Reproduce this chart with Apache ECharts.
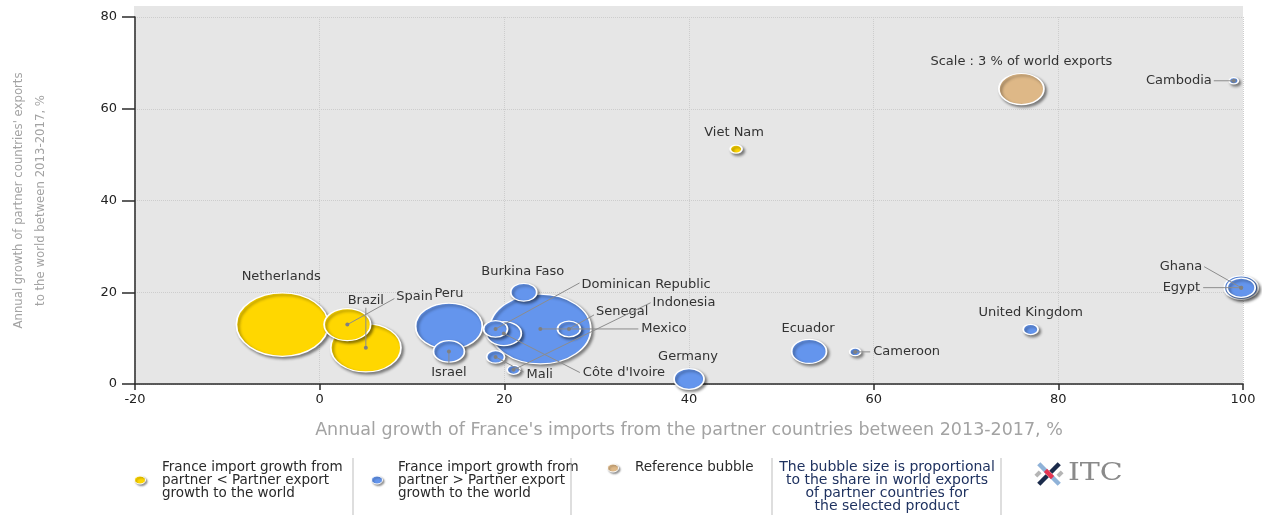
<!DOCTYPE html>
<html><head><meta charset="utf-8">
<script src="https://cdn.jsdelivr.net/npm/echarts@6/dist/echarts.min.js"></script>
<style>html,body{margin:0;padding:0;background:#fff}#c{width:1262px;height:515px}</style>
</head><body><div id="c"></div>
<script>
// ---------- DATA ----------
// France import growth from partner < Partner export growth to the world
const lowNames  = ['Netherlands', 'Spain', 'Brazil', 'Viet Nam'];
const lowX      = [-4.05, 3.0, 5.0, 45.1];
const lowY      = [12.95, 12.95, 7.9, 51.2];
const lowShare  = [12.5, 3.2, 7.3, 0.21];

// France import growth from partner > Partner export growth to the world
const highNames = ['Peru', 'Israel', 'Mexico', 'Burkina Faso', 'Dominican Republic', "Côte d'Ivoire",
                   'Senegal', 'Mali', 'Indonesia', 'Germany', 'Ecuador', 'Cameroon', 'United Kingdom',
                   'Ghana', 'Egypt', 'Cambodia'];
const highX     = [14.0, 14.0, 23.9, 22.1, 19.05, 19.95, 27.0, 19.05, 21.0, 40.0, 53.0, 58.0, 77.0, 99.8, 99.8, 99.0];
const highY     = [12.6, 7.1, 12.0, 20.0, 12.0, 11.0, 12.0, 5.9, 3.1, 1.1, 7.1, 7.0, 11.9, 21.0, 21.0, 66.1];
const highShare = [6.6, 1.42, 15.1, 1.0, 0.85, 1.8, 0.78, 0.48, 0.25, 1.33, 1.8, 0.18, 0.33, 1.7, 1.16, 0.12];

// Reference bubble
const refNames  = ['Scale : 3 % of world exports'];
const refX      = [76.0];
const refY      = [64.3];
const refShare  = [3];

const xMin = -20, xMax = 100, xStep = 20;
const yMin = 0,   yMax = 80,  yStep = 20;

const xTitle = "Annual growth of France's imports from the partner countries between 2013-2017, %";
const yTitle = "Annual growth of partner countries' exports\nto the world between 2013-2017, %";
const legendLow  = 'France import growth from\npartner < Partner export\ngrowth to the world';
const legendHigh = 'France import growth from\npartner > Partner export\ngrowth to the world';
const legendRef  = 'Reference bubble';
const legendNote = 'The bubble size is proportional\nto the share in world exports\nof partner countries for\nthe selected product';

// ---------- STYLE / LAYOUT ----------
const YELLOW = '#FFD700', BLUE = '#6495ED', TAN = '#DEB887';
const SCALE_W = 45;      // pixel width of a 3 % bubble
const ASPECT = 0.69;     // bubbles are drawn as ellipses
const LBL_FONT = '13px "DejaVu Sans", Verdana, sans-serif';

// label placement relative to bubble centre (pixels)
const labelCfg = {
  'Netherlands':        {text: [-1, -48]},
  'Spain':              {line: [47, -26], text: [49, -28], align: 'left'},
  'Brazil':             {line: [0, -40],  text: [0, -47]},
  'Viet Nam':           {text: [-2, -16]},
  'Peru':               {text: [0, -33]},
  'Israel':             {line: [0, 12],   text: [0, 21]},
  'Mexico':             {line: [98, 0],   text: [101, 0], align: 'left'},
  'Burkina Faso':       {text: [-1, -21]},
  'Dominican Republic': {line: [84, -46], text: [86, -44], align: 'left'},
  "Côte d'Ivoire":      {line: [76, 39],  text: [79, 39], align: 'left'},
  'Senegal':            {line: [25, -14], text: [27, -17], align: 'left'},
  'Mali':               {line: [28, 15],  text: [31, 18], align: 'left'},
  'Indonesia':          {line: [137, -67], text: [139, -67], align: 'left'},
  'Germany':            {text: [-1, -22]},
  'Ecuador':            {text: [-1, -23]},
  'Cameroon':           {line: [15, 0],   text: [18, 0], align: 'left'},
  'United Kingdom':     {text: [0, -17]},
  'Ghana':              {line: [-37, -21], text: [-39, -21], align: 'right'},
  'Egypt':              {line: [-38, 0],  text: [-41, 0], align: 'right'},
  'Cambodia':           {line: [-20, 0],  text: [-22, 0], align: 'right'},
  'Scale : 3 % of world exports': {text: [0, -27]}
};

function bubbleSize(v) { const w = SCALE_W * Math.sqrt(v[2] / 3); return [w, w * ASPECT]; }
function buildData(names, xs, ys, shares) {
  return names.map((n, i) => ({name: n, value: [xs[i], ys[i], shares[i]]}))
              .sort((a, b) => b.value[2] - a.value[2]);
}
function bubbleStyle(c) {
  return {color: c, borderColor: '#fff', borderWidth: 1.5, opacity: 1,
          shadowColor: 'rgba(0,0,0,0.45)', shadowBlur: 3, shadowOffsetX: 2, shadowOffsetY: 2};
}

const allNames = lowNames.concat(highNames, refNames);
const allX = lowX.concat(highX, refX);
const allY = lowY.concat(highY, refY);
const labelData = allNames.map((n, i) => [allX[i], allY[i], i]);

const chart = echarts.init(document.getElementById('c'), null, {renderer: 'canvas'});

const legendDot = (cx, cy, color) => ({
  type: 'ellipse', shape: {cx: cx, cy: cy, rx: 5.5, ry: 4},
  style: {fill: color, stroke: '#fff', lineWidth: 1, shadowColor: 'rgba(0,0,0,0.4)', shadowBlur: 2, shadowOffsetX: 1.5, shadowOffsetY: 1.5}
});
const sep = x => ({type: 'line', shape: {x1: x, y1: 458, x2: x, y2: 515}, style: {stroke: '#bdbdbd', lineWidth: 1}});
const legTxt = (x, y, t, opts) => Object.assign({type: 'text', x: x, y: y,
  style: Object.assign({text: t, fill: '#2a2a2a', font: '13.5px "DejaVu Sans", Verdana, sans-serif', lineHeight: 13, align: 'left', verticalAlign: 'top'}, opts || {})});
const bar = (cx, cy, len, w, rot, color) => ({
  type: 'rect', x: cx, y: cy, rotation: rot, shape: {x: -len / 2, y: -w / 2, width: len, height: w}, style: {fill: color}
});

const option = {
  animation: false,
  backgroundColor: '#fff',
  grid: {left: 134, right: 19, top: 17, bottom: 131, show: false},
  xAxis: {
    type: 'value', min: xMin, max: xMax, interval: xStep,
    name: xTitle, nameLocation: 'middle', nameGap: 37,
    nameTextStyle: {color: '#a3a3a3', fontSize: 17.5, fontFamily: '"DejaVu Sans", Verdana, sans-serif'},
    axisLine: {show: true, onZero: false, lineStyle: {color: '#2b2b2b', width: 1.5}},
    axisTick: {show: true, length: 6, lineStyle: {color: '#2b2b2b', width: 1.5}},
    axisLabel: {color: '#222', fontSize: 13, margin: 9, fontFamily: '"DejaVu Sans", Verdana, sans-serif'},
    splitLine: {show: true, lineStyle: {color: '#cdcdcd', type: 'dotted', width: 1}}
  },
  yAxis: {
    type: 'value', min: yMin, max: yMax, interval: yStep,
    name: yTitle, nameLocation: 'middle', nameGap: 83, nameRotate: 90,
    nameTextStyle: {color: '#a3a3a3', fontSize: 13, lineHeight: 22, fontFamily: '"Liberation Sans Narrow", "DejaVu Sans Condensed", sans-serif'},
    axisLine: {show: true, onZero: false, lineStyle: {color: '#2b2b2b', width: 1.5}},
    axisTick: {show: true, length: 13, lineStyle: {color: '#2b2b2b', width: 1.5}},
    axisLabel: {color: '#222', fontSize: 13, margin: 18, fontFamily: '"DejaVu Sans", Verdana, sans-serif'},
    splitLine: {show: true, lineStyle: {color: '#cdcdcd', type: 'dotted', width: 1}}
  },
  graphic: [
    {type: 'rect', z: -100, silent: true, shape: {x: 134, y: 6, width: 1109, height: 378}, style: {fill: '#e6e6e6'}},
    legendDot(140, 480, YELLOW), legTxt(162, 461, legendLow),
    sep(353),
    legendDot(377, 480, BLUE), legTxt(398, 461, legendHigh),
    sep(571),
    legendDot(613, 468, TAN), legTxt(635, 461, legendRef),
    sep(772),
    legTxt(887, 461, legendNote, {align: 'center', fill: '#1f3260', font: '14px "DejaVu Sans", Verdana, sans-serif'}),
    sep(1001),
    bar(1043, 468, 12, 4.5, -Math.PI / 4, '#8fb2d8'),
    bar(1055, 468, 12, 4.5, Math.PI / 4, '#1b2b4b'),
    bar(1043, 480, 12, 4.5, Math.PI / 4, '#1b2b4b'),
    bar(1055, 480, 12, 4.5, -Math.PI / 4, '#8fb2d8'),
    bar(1049, 474, 10, 4.5, -Math.PI / 4, '#e53552'),
    bar(1038, 474, 6, 4, Math.PI / 4, '#b5b5b5'),
    bar(1060, 474, 6, 4, Math.PI / 4, '#b5b5b5'),
    {type: 'text', x: 1068, y: 474, scaleX: 1.25, style: {text: 'ITC', fill: '#8a8a8a', font: '24px "DejaVu Serif", "Liberation Serif", serif', verticalAlign: 'middle'}}
  ],
  series: [
    {type: 'scatter', name: 'low', z: 2, data: buildData(lowNames, lowX, lowY, lowShare),
     symbolSize: bubbleSize, itemStyle: bubbleStyle(YELLOW), silent: true},
    {type: 'scatter', name: 'high', z: 2, data: buildData(highNames, highX, highY, highShare),
     symbolSize: bubbleSize, itemStyle: bubbleStyle(BLUE), silent: true},
    {type: 'scatter', name: 'ref', z: 2, data: buildData(refNames, refX, refY, refShare),
     symbolSize: bubbleSize, itemStyle: bubbleStyle(TAN), silent: true},
    {type: 'custom', name: 'labels', z: 5, clip: false, silent: true, data: labelData,
     renderItem: function (params, api) {
       const p = api.coord([api.value(0), api.value(1)]);
       const name = allNames[api.value(2)];
       const cfg = labelCfg[name] || {text: [0, -15]};
       const ch = [];
       if (cfg.line) {
         ch.push({type: 'line', shape: {x1: p[0], y1: p[1], x2: p[0] + cfg.line[0], y2: p[1] + cfg.line[1]},
                  style: {stroke: '#8c8c8c', lineWidth: 1}});
         ch.push({type: 'circle', shape: {cx: p[0], cy: p[1], r: 2}, style: {fill: '#808080'}});
       }
       ch.push({type: 'text', x: p[0] + cfg.text[0], y: p[1] + cfg.text[1],
                style: {text: name, fill: '#333', font: LBL_FONT, align: cfg.align || 'center', verticalAlign: 'middle'}});
       return {type: 'group', children: ch};
     }}
  ]
};
chart.setOption(option);
</script>
</body></html>
